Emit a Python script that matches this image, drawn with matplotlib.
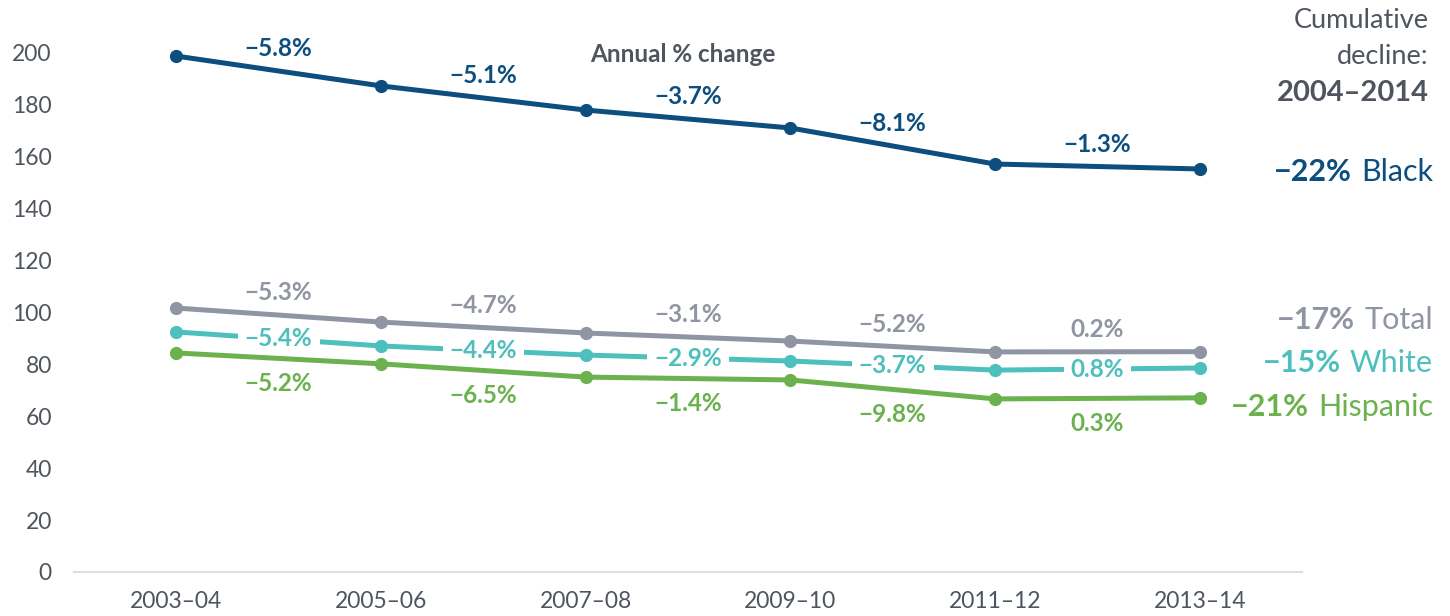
import matplotlib
matplotlib.use("Agg")
import matplotlib.pyplot as plt
import matplotlib.transforms as mtrans

plt.rcParams['font.family'] = ['Lato', 'DejaVu Sans']

periods = ['2003–04', '2005–06', '2007–08', '2009–10', '2011–12', '2013–14']

black = [198.8, 187.3, 178.0, 171.1, 157.2, 155.3]
total = [101.7, 96.3, 92.1, 89.0, 84.8, 84.9]
white = [92.5, 87.1, 83.6, 81.3, 77.8, 78.6]
hispanic = [84.4, 80.2, 75.1, 74.0, 66.7, 67.1]

black_chg = ['−5.8%', '−5.1%', '−3.7%', '−8.1%', '−1.3%']
total_chg = ['−5.3%', '−4.7%', '−3.1%', '−5.2%', '0.2%']
white_chg = ['−5.4%', '−4.4%', '−2.9%', '−3.7%', '0.8%']
hispanic_chg = ['−5.2%', '−6.5%', '−1.4%', '−9.8%', '0.3%']

names = ['Black', 'Total', 'White', 'Hispanic']
cumulative = ['−22%', '−17%', '−15%', '−21%']

c_black = '#0c4e7e'
c_total = '#8f95a2'
c_white = '#4dbfbd'
c_hisp = '#6bb24f'
c_text = '#4f555e'

fig = plt.figure(figsize=(14.5, 6.16), dpi=100)
ax = fig.add_axes([74/1450, 1 - 572/616, (1302 - 74)/1450, (572 - 27)/616])

x = list(range(len(periods)))
series = [(black, c_black, black_chg, 'above'),
          (total, c_total, total_chg, 'above'),
          (white, c_white, white_chg, 'on'),
          (hispanic, c_hisp, hispanic_chg, 'below')]

for vals, col, chg, where in series:
    z = 2 if where == 'on' else 4
    ax.plot(x, vals, color=col, lw=3.6, marker='o', ms=8.5, zorder=z,
            solid_capstyle='round')
    for i, lab in enumerate(chg):
        mx = i + 0.5
        my = (vals[i] + vals[i + 1]) / 2
        if where == 'above':
            ax.annotate(lab, (mx, my), xytext=(0, 16), textcoords='offset points',
                        ha='center', va='center', color=col, fontsize=17.5,
                        fontweight='bold', zorder=5)
        elif where == 'below':
            ax.annotate(lab, (mx, my), xytext=(0, -18), textcoords='offset points',
                        ha='center', va='center', color=col, fontsize=17.5,
                        fontweight='bold', zorder=5)
        else:
            ax.annotate(lab, (mx, my), xytext=(0, 0), textcoords='offset points',
                        ha='center', va='center', color=col, fontsize=17.5,
                        fontweight='bold', zorder=3,
                        bbox=dict(facecolor='white', edgecolor='none', pad=5))

ax.set_xlim(-0.5, 5.5)
ax.set_ylim(0, 210)
ax.set_yticks(range(0, 201, 20))
ax.set_xticks(x)
ax.set_xticklabels(periods)
ax.tick_params(axis='both', length=0, labelsize=16.5, labelcolor=c_text)
ax.tick_params(axis='y', pad=16)
ax.tick_params(axis='x', pad=14)
for s in ['top', 'right', 'left']:
    ax.spines[s].set_visible(False)
ax.spines['bottom'].set_color('#dedede')
ax.spines['bottom'].set_linewidth(1.5)

fig.text(683/1450, 1 - 54/616, 'Annual % change', ha='center', va='center',
         fontsize=17.5, fontweight='bold', color=c_text)

fig.text(1429/1450, 1 - 21/616, 'Cumulative', ha='right', va='center',
         fontsize=19.5, color=c_text)
fig.text(1429/1450, 1 - 57/616, 'decline:', ha='right', va='center',
         fontsize=19.5, color=c_text)
fig.text(1429/1450, 1 - 93/616, '2004–2014', ha='right', va='center',
         fontsize=21, fontweight='bold', color=c_text)

# right-side labels
trans = mtrans.blended_transform_factory(fig.transFigure, ax.transData)
label_y = [154.0, 97.0, 80.5, 63.6]
cols = [c_black, c_total, c_white, c_hisp]
renderer = fig.canvas.get_renderer()
for nm, cum, yy, col in zip(names, cumulative, label_y, cols):
    t = ax.text(1433/1450, yy, nm, transform=trans, ha='right', va='center',
                fontsize=22, color=col, clip_on=False)
    bb = t.get_window_extent(renderer)
    ax.text((bb.x0 - 9)/1450, yy, cum, transform=trans, ha='right', va='center',
            fontsize=22, fontweight='bold', color=col, clip_on=False)

fig.savefig('out.png', dpi=100)
